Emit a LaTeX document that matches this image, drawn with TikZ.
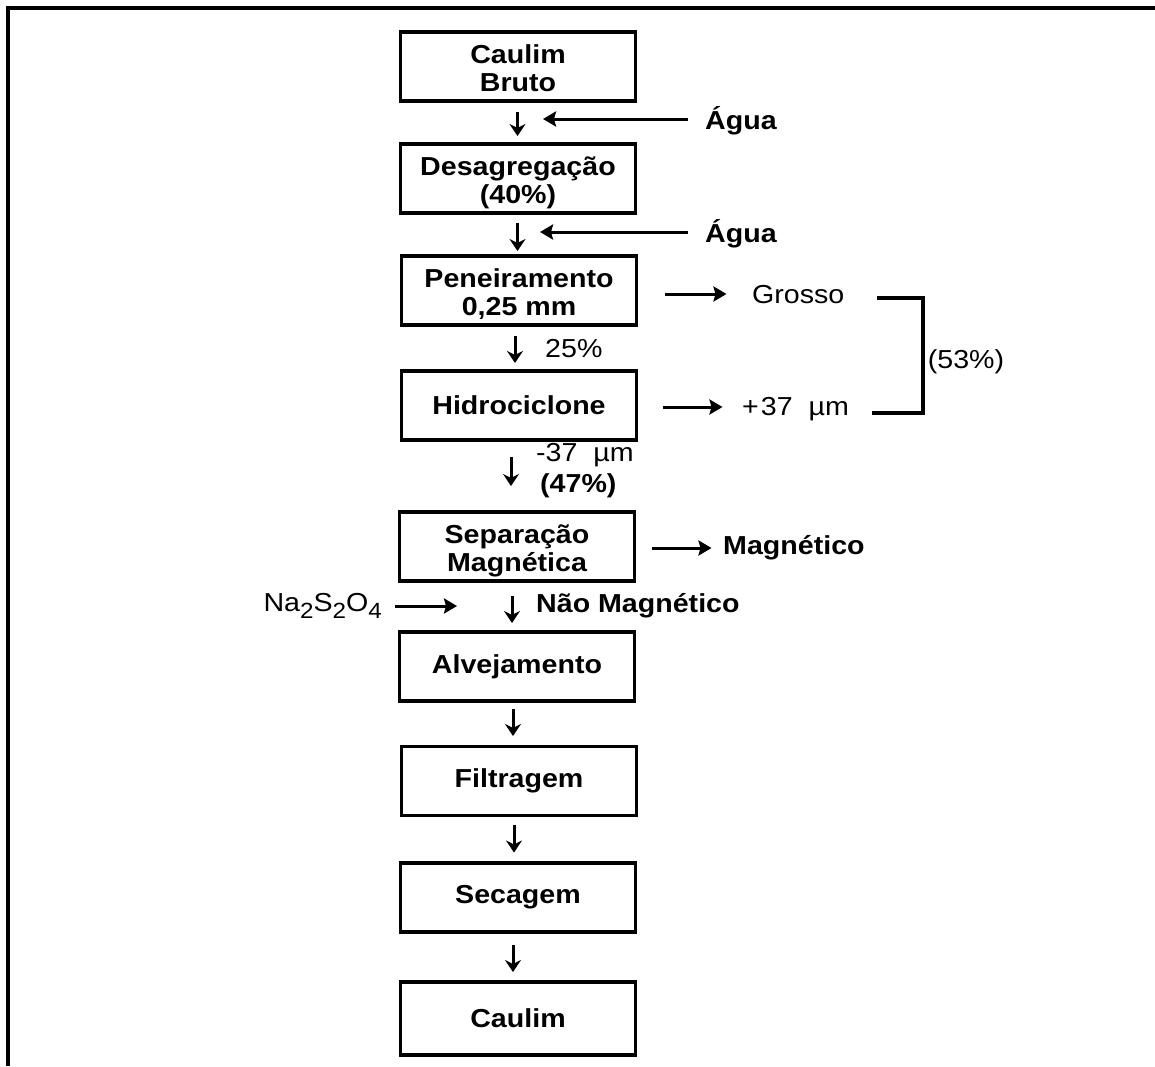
\documentclass[tikz,border=0pt]{standalone}
\usepackage{fontspec}
\setmainfont{Liberation Sans}[FakeStretch=1.1]
\usetikzlibrary{arrows.meta}
\newcommand\dgfont{\fontsize{26}{27}\selectfont}
\newcommand\twoline[2]{\raisebox{-6pt}[\height][\depth]{\begin{tabular}{@{}c@{}}#1\\[1pt]#2\end{tabular}}}
\begin{document}
\begin{tikzpicture}[x=1pt,y=-1pt,
  box/.style={draw, line width=3.5pt, minimum width=235pt, minimum height=69pt,
    align=center, font=\dgfont\bfseries, inner sep=0pt, outer sep=0pt},
  lbl/.style={font=\dgfont, inner sep=0pt, anchor=west},
  blbl/.style={font=\dgfont\bfseries, inner sep=0pt, anchor=west},
  darr/.style={line width=3pt, -{Stealth[length=12pt,width=16pt,inset=4pt]}},
  harr/.style={line width=3pt, -{Stealth[length=13pt,width=15pt,inset=2pt]}},
  brk/.style={line width=3.5pt}]
\useasboundingbox (0,0) rectangle (1155,1066);
% frame
\draw[line width=3.5pt] (8,1066) -- (8,8) -- (1155,8);
% boxes
\node[box] (b1) at (518,66.5) {\twoline{Caulim}{Bruto}};
\node[box] (b2) at (518,178.5) {\twoline{Desagregação}{(40\%)}};
\node[box] (b3) at (519,290.5) {\twoline{Peneiramento}{0,25 mm}};
\node[box] (b4) at (519,405.5) {Hidrociclone};
\node[box] (b5) at (517,546.5) {\twoline{Separação}{Magnética}};
\node[box] (b6) at (517,666.5) {Alvejamento};
\node[box] (b7) at (519,781) {Filtragem};
\node[box] (b8) at (518,897.5) {Secagem};
\node[box, minimum height=73pt] (b9) at (518,1018.5) {Caulim};
% labels
\node[blbl] (agua1) at (705,121) {Água};
\node[blbl] (agua2) at (705,234) {Água};
\node[lbl] (grosso) at (752,295) {Grosso};
\node[lbl] (p37) at (742,409) {+\kern2pt 37\ \ µm};
\node[lbl, anchor=center] (p53) at (966,362) {(53\%)};
\node[lbl] (p25) at (545,349) {25\%};
\node[lbl] (m37) at (536,455) {-37\ \ µm};
\node[blbl] (p47) at (540,486) {(47\%)};
\node[blbl] (magn) at (723,548) {Magnético};
\node[blbl] (nao) at (536,606) {Não Magnético};
\node[lbl, anchor=east] (na) at (382,606) {Na\raisebox{-7pt}{\fontsize{22}{22}\selectfont 2}S\raisebox{-7pt}{\fontsize{22}{22}\selectfont 2}O\raisebox{-7pt}{\fontsize{22}{22}\selectfont 4}};
% vertical arrows (start below one box, end above the next)
\draw[darr] (b1.south) ++(-0.5,11) -- ++(0,24);
\draw[darr] (b2.south) ++(-0.5,10) -- ++(0,28);
\draw[darr] (b3.south) ++(-4,11) -- ++(0,27);
\draw[darr] (b4.south) ++(-8,17) -- ++(0,29);
\draw[darr] (b5.south) ++(-5,15) -- ++(0,27);
\draw[darr] (b6.south) ++(-4,8) -- ++(0,27);
\draw[darr] (b7.south) ++(-5,9) -- ++(0,28);
\draw[darr] (b8.south) ++(-5,13) -- ++(0,27);
% horizontal arrows
\draw[harr] (agua1.west) ++(-17,-2) -- (543,119);
\draw[harr] (agua2.west) ++(-17,-2) -- (540,232);
\draw[harr] (grosso.west -| b3.east) ++(28,-1) -- ++(62,0);
\draw[harr] (p37.west -| b4.east) ++(26,-2) -- ++(60,0);
\draw[harr] (magn.west -| b5.east) ++(17,0) -- ++(60,0);
\draw[harr] (na.east) ++(13,0) -- ++(62,0);
% bracket
\draw[brk] (grosso.east) ++(32,3) -| (923,413) -- (872,413);
\end{tikzpicture}
\end{document}
